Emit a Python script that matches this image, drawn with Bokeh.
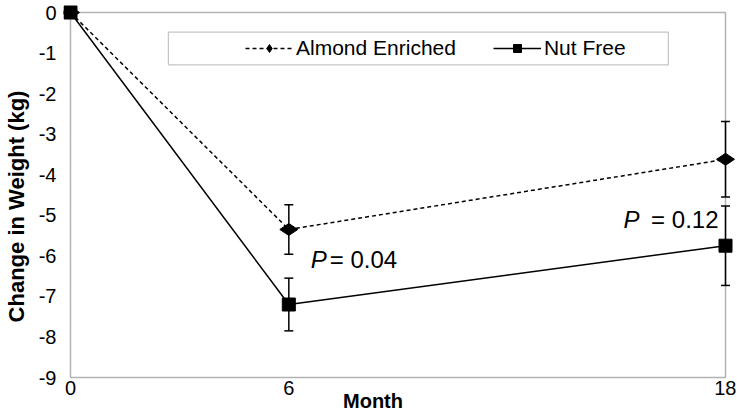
import numpy as np
from bokeh.plotting import figure
from bokeh.models import (ColumnDataSource, Whisker, TeeHead, Legend, LegendItem,
                          Label, BoxAnnotation, FixedTicker, Range1d)
from bokeh.embed import file_html
from bokeh.resources import INLINE

# ---- data ----
months = [0, 6, 18]
almond = [0.0, -5.35, -3.62]
almond_err = [0.0, 0.61, 0.93]
nutfree = [0.0, -7.2, -5.75]
nutfree_err = [0.0, 0.65, 0.98]
x_ticks = [0, 6, 18]
y_ticks = [0, -1, -2, -3, -4, -5, -6, -7, -8, -9]
series_names = ["Almond Enriched", "Nut Free"]
p_values = ["= 0.04", "= 0.12"]
x_title = "Month"
y_title = "Change in Weight (kg)"

FONT = "Liberation Sans"
X0, X1 = 0, 18
Y0, Y1 = -9, 0

p = figure(width=736, height=412, output_backend="svg", toolbar_location=None,
           x_range=Range1d(X0 - 0.192, X1 + 0.302), y_range=Range1d(Y0 - 0.863, Y1 + 0.296),
           min_border_left=0, min_border_right=0, min_border_top=0, min_border_bottom=0)
p.xgrid.visible = False
p.ygrid.visible = False
p.outline_line_color = None
p.background_fill_color = "white"
p.border_fill_color = "white"

# plot-area frame drawn at the axis limits so edge markers are not clipped
frame_box = BoxAnnotation(left=X0, right=X1, bottom=Y0, top=Y1, fill_alpha=0,
                          line_color="black", line_width=1.5, level="underlay")
p.add_layout(frame_box)

def err_source(vals, errs):
    m = np.array(months, dtype=float)
    v = np.array(vals)
    e = np.array(errs)
    keep = e > 0
    return ColumnDataSource(dict(x=m[keep], upper=(v + e)[keep], lower=(v - e)[keep]))

src_a = ColumnDataSource(dict(x=months, y=almond))
src_n = ColumnDataSource(dict(x=months, y=nutfree))

l_a = p.line("x", "y", source=src_a, line_color="black", line_width=1.5, line_dash="4 3")
l_n = p.line("x", "y", source=src_n, line_color="black", line_width=1.5)

for vals, errs in ((almond, almond_err), (nutfree, nutfree_err)):
    w = Whisker(base="x", upper="upper", lower="lower", source=err_source(vals, errs),
                line_color="black", line_width=1.5,
                upper_head=TeeHead(size=9, line_color="black", line_width=1.5),
                lower_head=TeeHead(size=9, line_color="black", line_width=1.5))
    p.add_layout(w)

m_a = p.scatter("x", "y", source=src_a, marker="diamond", size=18, angle=np.pi / 2,
                fill_color="black", line_color="black")
m_n = p.scatter("x", "y", source=src_n, marker="square", size=13,
                fill_color="black", line_color="black")

# axes
for ax in (p.xaxis[0], p.yaxis[0]):
    ax.major_tick_line_color = None
    ax.minor_tick_line_color = None
    ax.axis_line_color = None
    ax.major_label_text_font = FONT
    ax.major_label_text_color = "black"
    ax.major_label_text_font_size = "20px"
    ax.axis_label_text_font = FONT
    ax.axis_label_text_font_style = "bold"
    ax.axis_label_text_color = "black"

p.xaxis.ticker = FixedTicker(ticks=x_ticks)
p.yaxis.ticker = FixedTicker(ticks=y_ticks)
p.yaxis.major_label_overrides = {t: str(t) for t in y_ticks}
p.xaxis.major_label_overrides = {t: str(t) for t in x_ticks}
p.xaxis.fixed_location = Y0
p.xaxis.major_label_standoff = -3
p.yaxis.major_label_standoff = 1
p.yaxis.axis_label = y_title
p.yaxis.axis_label_text_font_size = "22px"
p.yaxis.axis_label_standoff = 7

# x-axis title, offset like the reference
p.add_layout(Label(x=(X0 + X1) / 2, y=Y0, x_offset=-25, y_offset=-23, text=x_title,
                   text_font=FONT, text_font_style="bold", text_font_size="20px",
                   text_align="center", text_baseline="middle", text_color="black"))

# legend box
box = BoxAnnotation(left=2.69, right=16.43, top=-0.485, bottom=-1.29,
                    fill_alpha=0, line_color="#404040", line_width=1.2)
p.add_layout(box)

legend = Legend(items=[LegendItem(label=series_names[0], renderers=[l_a, m_a]),
                       LegendItem(label=series_names[1], renderers=[l_n, m_n])],
                orientation="horizontal", location=(182, 352),
                border_line_color=None, background_fill_alpha=0,
                glyph_width=48, glyph_height=20, label_standoff=3, spacing=37,
                padding=0, margin=0,
                label_text_font=FONT, label_text_font_size="21px", label_text_color="black")
p.add_layout(legend, "center")

# P-value annotations
for xx, yy, xo_p, xo_t, align, txt in ((6, -6.1, 22, 41, "left", p_values[0]),
                                       (18, -5.1, -86, -7, "right", p_values[1])):
    p.add_layout(Label(x=xx, y=yy, x_offset=xo_p, text="P", text_font=FONT,
                       text_font_style="italic", text_font_size="24px",
                       text_baseline="middle", text_align=align, text_color="black"))
    p.add_layout(Label(x=xx, y=yy, x_offset=xo_t, text=txt, text_font=FONT,
                       text_font_size="24px", text_baseline="middle",
                       text_align=align, text_color="black"))

open("out.html", "w").write(file_html(p, INLINE))
